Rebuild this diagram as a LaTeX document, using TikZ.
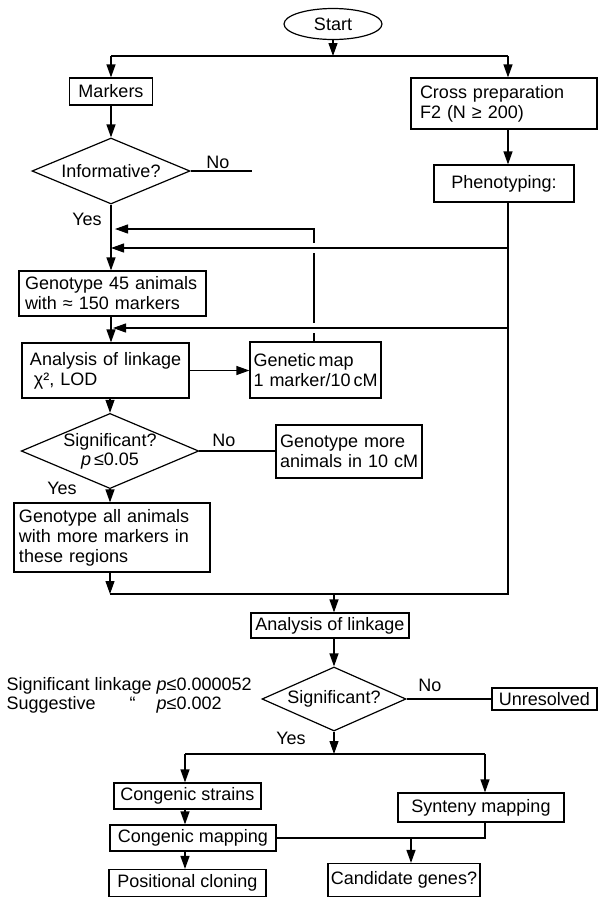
\documentclass[tikz,border=0pt]{standalone}
\usepackage{fontspec}
\setmainfont{Liberation Sans}
\usetikzlibrary{shapes.geometric,arrows.meta}
\begin{document}
\begin{tikzpicture}[x=1pt,y=-1pt,
  line width=1.2pt,
  font=\fontsize{18}{20}\selectfont,
  box/.style={draw, rectangle, inner sep=0pt},
  lbox/.style={draw, rectangle, inner ysep=0pt, align=left},
  dia/.style={draw, diamond, inner sep=0pt, align=center},
  ell/.style={draw, ellipse, inner sep=0pt},
  arr/.style={-{Triangle[length=13pt,width=9pt]}},
  lab/.style={inner sep=0pt}
]
\useasboundingbox (0,0) rectangle (600,898);

% ---------- top ----------
\node[ell, minimum width=98pt, minimum height=31pt] (start) at (333,24) {Start};
\coordinate (t) at (333,56);
\coordinate (tl) at (111,56);
\coordinate (tr) at (508,56);
\node[box, minimum width=83pt, minimum height=27pt] (markers) at (111,91.5) {Markers};
\node[lbox, text width=168pt, inner xsep=9pt, minimum height=51pt] (cross) at (504,103.5) {\mbox{Cross preparation}\\\mbox{F2 (N ≥ 200)}};
\node[dia, shape aspect=2.39, minimum width=158pt, minimum height=66pt] (inf) at (111,171) {Informative?};
\coordinate (infno) at (252,171);
\node[lab] (no1) at (218,162) {No};
\node[box, minimum width=140pt, minimum height=37pt] (pheno) at (504,183.5) {Phenotyping:};
\node[lab] (yes1) at (87,219) {Yes};

% ---------- upper left column ----------
\node[lbox, text width=175pt, inner xsep=6pt, minimum height=45pt] (g45) at (112.5,293.5) {\mbox{Genotype 45 animals}\\\mbox{with ≈ 150 markers}};
\node[lbox, text width=151pt, inner xsep=8pt, minimum height=55pt] (a1) at (105.5,370.5) {\mbox{Analysis of linkage}\\\mbox{\hspace*{4pt}χ², LOD}};
\node[lbox, text width=124pt, inner xsep=3.5pt, minimum height=56pt] (gm) at (315.5,370) {\mbox{Genetic\,map}\\\mbox{1 marker/10\,cM}};
\node[dia, shape aspect=2.36, minimum width=170pt, minimum height=72pt, font=\fontsize{18}{19}\selectfont] (sig1) at (110,451) {Significant?\\\textit{p}\,≤0.05};
\node[lab] (no2) at (224,440) {No};
\node[lbox, text width=138pt, inner xsep=4pt, minimum height=53pt] (gmore) at (349,451.5) {\mbox{Genotype more}\\\mbox{animals in 10 cM}};
\node[lab] (yes2) at (62,488) {Yes};
\node[lbox, text width=186pt, inner xsep=5pt, minimum height=69pt] (gall) at (112,537.5) {\mbox{Genotype all animals}\\\mbox{with more markers in}\\\mbox{these regions}};

% loop coordinates
\coordinate (b1) at (508,248);
\coordinate (e1) at (111,248);
\coordinate (b2) at (508,328);
\coordinate (e2) at (113,328);
\coordinate (k) at (314,229);
\coordinate (e0) at (115,229);
\coordinate (g1a) at (314,333);
\coordinate (g1b) at (314,323);
\coordinate (g2a) at (314,253);
\coordinate (g2b) at (314,243);
\coordinate (r594) at (508,594);
\coordinate (l594) at (110,594);
\coordinate (m594) at (334,594);

% ---------- lower part ----------
\node[box, minimum width=158pt, minimum height=25pt] (a2) at (330,625.5) {Analysis of linkage};
\node[dia, shape aspect=2.25, minimum width=144pt, minimum height=64pt] (sig2) at (334,699) {Significant?};
\node[lab] (no3) at (430,685) {No};
\node[box, minimum width=105pt, minimum height=22pt] (unres) at (544.5,699) {Unresolved};
\node[lab, anchor=west, font=\fontsize{18}{17}\selectfont] (ann) at (6,696) {\begin{tabular}{@{}l@{}l@{}}Significant linkage\hspace*{5pt}&\textit{p}≤0.000052\\Suggestive\hspace*{34pt}“&\textit{p}≤0.002\end{tabular}};
\node[lab] (yes3) at (291,738) {Yes};
\coordinate (s754) at (334,754);
\coordinate (l754) at (185,754);
\coordinate (r754) at (485,754);
\node[box, minimum width=147pt, minimum height=26pt] (cstr) at (187.5,796) {Congenic strains};
\node[box, minimum width=166pt, minimum height=29pt] (syn) at (481,807.5) {Synteny mapping};
\node[box, minimum width=166pt, minimum height=26pt] (cmap) at (193,838) {Congenic mapping};
\coordinate (r838) at (485,838);
\coordinate (c838) at (411,838);
\node[box, minimum width=152pt, minimum height=33pt] (cand) at (404,880) {Candidate genes?};
\node[box, minimum width=157pt, minimum height=27pt] (pos) at (187.5,883) {Positional cloning};

% ---------- connectors ----------
\draw[arr] (start) -- (t);
\draw (tl) -- (tr);
\draw[arr] (tl) -- (tl |- markers.north);
\draw[arr] (tr) -- (tr |- cross.north);
\draw[arr] (markers.south) -- (markers.south |- inf.north);
\draw[arr] (cross.south -| tr) -- (pheno.north -| tr);
\draw (inf.east) -- (infno);
\draw[arr] (inf.south) -- (inf.south |- g45.north);
\draw (pheno.south -| tr) -- (r594) -- (l594);
\draw[arr] (b1) -- (e1);
\draw[arr] (b2) -- (e2);
\draw (gm.north -| k) -- (g1a);
\draw (g1b) -- (g2a);
\draw[arr] (g2b) -- (k) -- (e0);
\draw[arr] (g45.south -| inf.south) -- (inf.south |- a1.north);
\draw[arr] (a1.east) -- (a1.east -| gm.west);
\draw[arr] (a1.south -| sig1.north) -- (sig1.north);
\draw (sig1.east) -- (sig1.east -| gmore.west);
\draw[arr] (sig1.south) -- (sig1.south |- gall.north);
\draw[arr] (gall.south -| l594) -- (l594);
\draw[arr] (m594) -- (m594 |- a2.north);
\draw[arr] (a2.south -| m594) -- (sig2.north);
\draw (sig2.east) -- (unres.west);
\draw[arr] (sig2.south) -- (s754);
\draw (l754) -- (r754);
\draw[arr] (l754) -- (l754 |- cstr.north);
\draw[arr] (r754) -- (r754 |- syn.north);
\draw[arr] (cstr.south -| l754) -- (cmap.north -| l754);
\draw (cmap.east) -- (r838) -- (syn.south -| r838);
\draw[arr] (c838) -- (c838 |- cand.north);
\draw[arr] (cmap.south -| l754) -- (pos.north -| l754);
\end{tikzpicture}
\end{document}
